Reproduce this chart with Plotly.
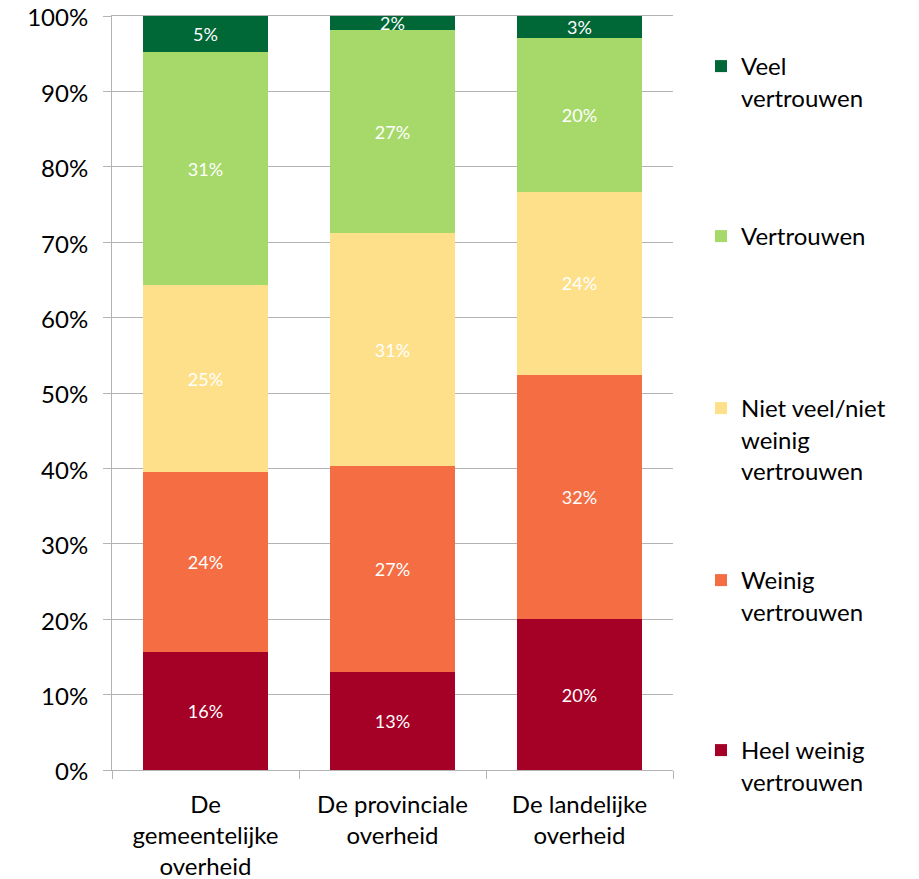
import plotly.graph_objects as go

categories = ["De<br>gemeentelijke<br>overheid", "De provinciale<br>overheid", "De landelijke<br>overheid"]
series_names = ["Heel weinig<br>vertrouwen", "Weinig<br>vertrouwen",
                "Niet veel/niet<br>weinig<br>vertrouwen", "Vertrouwen", "Veel<br>vertrouwen"]
heel_weinig = [15.7, 13.0, 20.0]
weinig = [23.8, 27.3, 32.4]
niet_veel_niet_weinig = [24.8, 30.9, 24.3]
vertrouwen = [30.9, 26.9, 20.4]
veel = [4.8, 1.9, 2.9]
series_values = [heel_weinig, weinig, niet_veel_niet_weinig, vertrouwen, veel]
colors = ["#a50026", "#f46d43", "#fee08b", "#a6d96a", "#006837"]
y_ticks = [0, 10, 20, 30, 40, 50, 60, 70, 80, 90, 100]
y_tick_labels = ["0%", "10%", "20%", "30%", "40%", "50%", "60%", "70%", "80%", "90%", "100%"]

FONT = "Lato"
W, H = 919, 879
OFF = 8  # page body margin offset

# legend ids: top item is "Veel vertrouwen"
legend_ids = ["legend5", "legend4", "legend3", "legend2", "legend"]
legend_first_line_px = [752, 582, 410, 238, 68]

fig = go.Figure()
for name, vals, col, lid in zip(series_names, series_values, colors, legend_ids):
    fig.add_trace(go.Bar(
        x=categories, y=vals, name=name, marker=dict(color=col, line=dict(width=0)),
        texttemplate="%{y:.0f}%", textposition="inside", insidetextanchor="middle",
        textangle=0, textfont=dict(color="white", size=18, family=FONT),
        legend=lid, hoverinfo="skip",
    ))

layout_legends = {}
for lid, py in zip(legend_ids, legend_first_line_px):
    layout_legends[lid] = dict(
        xref="container", yref="container", x=693 / W, y=1 - (py - 32) / H,
        xanchor="left", yanchor="top", valign="top", bgcolor="rgba(0,0,0,0)",
        font=dict(family=FONT, size=24, color="#000000"),
    )

fig.update_layout(
    width=W, height=H, barmode="stack", bargap=0.33,
    margin=dict(l=112 - OFF, r=W - 673 + OFF, t=16 - OFF, b=H - 770 + OFF, autoexpand=False),
    plot_bgcolor="white", paper_bgcolor="white",
    font=dict(family=FONT, size=24, color="#000000"),
    uniformtext=dict(minsize=18, mode="show"),
    showlegend=True,
    **layout_legends,
)
fig.update_yaxes(
    range=[0, 100], tickvals=y_ticks, ticktext=y_tick_labels, showgrid=True, gridcolor="#b3b3b3",
    gridwidth=1, showline=True, linecolor="#b3b3b3", linewidth=1, ticks="outside",
    ticklen=8, tickcolor="#b3b3b3", zeroline=False, tickfont=dict(size=24, family=FONT),
    automargin=False, ticklabelstandoff=10, ticklabeloverflow="allow", ticklabelshift=2,
)
fig.update_xaxes(
    type="category", showline=True, mirror=True, linecolor="#b3b3b3", linewidth=1, ticks="outside",
    tickson="boundaries", ticklen=8, tickcolor="#b3b3b3", showgrid=False,
    tickfont=dict(size=24, family=FONT), automargin=False, ticklabelstandoff=13,
)

fig.write_html("out.html")
